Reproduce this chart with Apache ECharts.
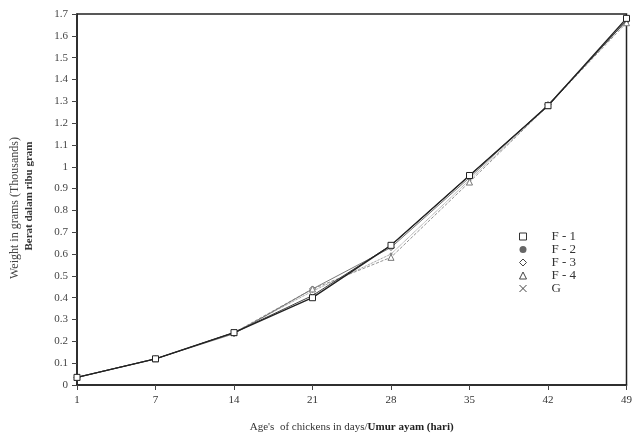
<!DOCTYPE html>
<html>
<head>
<meta charset="utf-8">
<script src="https://cdn.jsdelivr.net/npm/echarts@6/dist/echarts.min.js"></script>
<style>
  html, body { margin: 0; padding: 0; background: #fff; }
  #chart { width: 635px; height: 440px; }
</style>
</head>
<body>
<div id="chart"></div>
<script>
const days = ['1', '7', '14', '21', '28', '35', '42', '49'];
const f1 = [0.035, 0.12, 0.24, 0.40, 0.64, 0.96, 1.28, 1.68];
const f2 = [0.035, 0.12, 0.24, 0.43, 0.60, 0.94, 1.28, 1.67];
const f3 = [0.035, 0.12, 0.235, 0.44, 0.63, 0.95, 1.285, 1.67];
const f4 = [0.035, 0.12, 0.24, 0.44, 0.585, 0.93, 1.28, 1.66];
const g = [0.035, 0.12, 0.24, 0.41, 0.64, 0.96, 1.28, 1.67];

const serif = '"Liberation Serif", "DejaVu Serif", serif';
const chart = echarts.init(document.getElementById('chart'));

function line(name, data, symbol, size, color, width, type) {
    return {
        name: name,
        type: 'line',
        data: data,
        symbol: symbol,
        symbolSize: size,
        showAllSymbol: true,
        lineStyle: { color: color, width: width, type: type },
        itemStyle: { color: '#fff', borderColor: color, borderWidth: 1 },
        z: name === 'F-1' ? 5 : 3
    };
}

const option = {
    animation: false,
    backgroundColor: '#fff',
    grid: { left: 77, right: 6, top: 14, bottom: 55, show: true, borderColor: '#222', borderWidth: 1.5 },
    legend: {
        orient: 'vertical',
        left: 514,
        top: 225,
        itemGap: 0,
        itemWidth: 7,
        itemHeight: 7,
        textStyle: { fontFamily: serif, fontSize: 13, lineHeight: 13, color: '#333', padding: [0, 0, 0, 20] },
        data: [
            { name: 'F-1', icon: 'rect', itemStyle: { color: '#fff', borderColor: '#333', borderWidth: 1 } },
            { name: 'F-2', icon: 'circle', itemStyle: { color: '#666', borderWidth: 0 } },
            { name: 'F-3', icon: 'diamond', itemStyle: { color: '#fff', borderColor: '#444', borderWidth: 1 } },
            { name: 'F-4', icon: 'triangle', itemStyle: { color: '#fff', borderColor: '#444', borderWidth: 1 } },
            { name: 'G', icon: 'path://M0,0L10,10M10,0L0,10', itemStyle: { color: '#fff', borderColor: '#444', borderWidth: 1 } }
        ],
        formatter: function (n) { return n.replace('-', ' - '); }
    },
    xAxis: {
        type: 'category',
        data: days,
        boundaryGap: false,
        name: '{n|Age\'s  of chickens in days/}{b|Umur ayam (hari)}',
        nameLocation: 'middle',
        nameGap: 37,
        nameTextStyle: {
            rich: {
                n: { fontFamily: serif, fontSize: 11, color: '#333' },
                b: { fontFamily: serif, fontSize: 11, fontWeight: 'bold', color: '#222' }
            }
        },
        axisLine: { lineStyle: { color: '#222', width: 1.5 } },
        axisTick: { show: true, inside: false, length: 5, alignWithLabel: true, lineStyle: { color: '#444' } },
        axisLabel: { fontFamily: serif, fontSize: 11, color: '#333', margin: 10 },
        splitLine: { show: false }
    },
    yAxis: {
        type: 'value',
        min: 0,
        max: 1.7,
        interval: 0.1,
        axisLine: { show: true, lineStyle: { color: '#222', width: 1.5 } },
        axisTick: { show: true, length: 5, lineStyle: { color: '#444' } },
        axisLabel: {
            fontFamily: serif, fontSize: 11, color: '#444', margin: 9,
            formatter: function (v) { return String(Math.round(v * 10) / 10); }
        },
        splitLine: { show: false }
    },
    graphic: [
        {
            type: 'text',
            x: 15, y: 208,
            rotation: Math.PI / 2,
            style: { text: 'Weight in grams (Thousands)', font: '12px ' + serif, fill: '#444', align: 'center', verticalAlign: 'middle' }
        },
        {
            type: 'text',
            x: 29, y: 196,
            rotation: Math.PI / 2,
            style: { text: 'Berat dalam ribu gram', font: 'bold 11px ' + serif, fill: '#333', align: 'center', verticalAlign: 'middle' }
        }
    ],
    series: [
        line('F-1', f1, 'rect', 6, '#222', 1.4, 'solid'),
        line('F-2', f2, 'circle', 2, '#666', 0.8, 'dotted'),
        line('F-3', f3, 'diamond', 6, '#555', 0.8, 'solid'),
        line('F-4', f4, 'triangle', 6, '#777', 0.8, 'dashed'),
        line('G', g, 'path://M0,0L10,10M10,0L0,10', 4, '#444', 1, 'solid')
    ]
};

chart.setOption(option);
</script>
</body>
</html>
